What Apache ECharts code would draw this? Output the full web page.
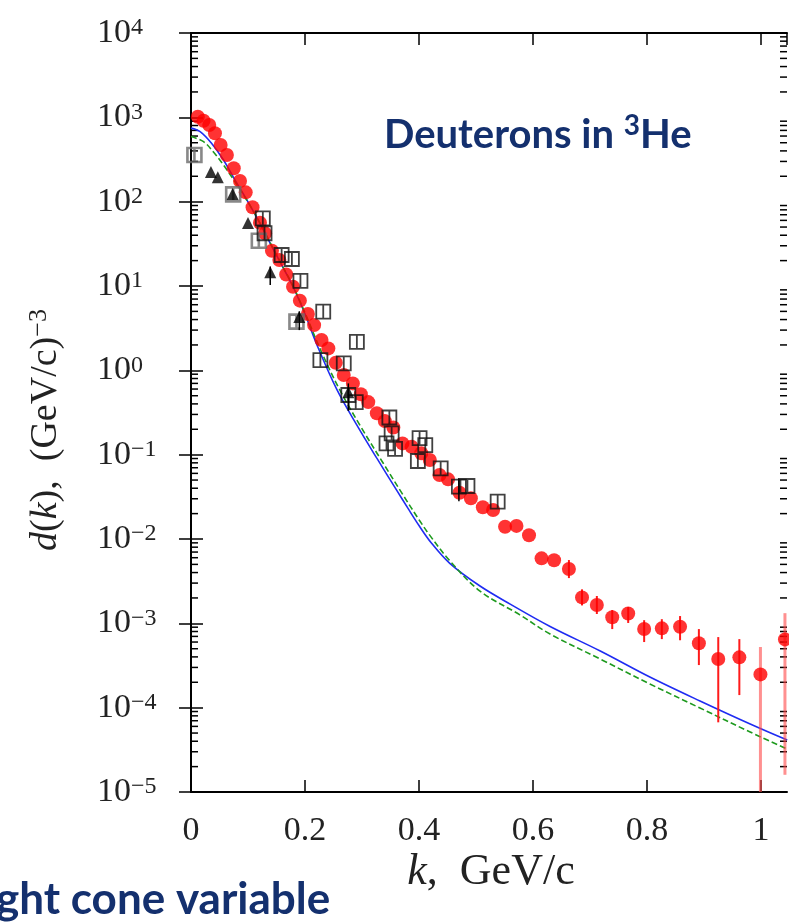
<!DOCTYPE html>
<html>
<head>
<meta charset="utf-8">
<script src="https://cdn.jsdelivr.net/npm/echarts@6/dist/echarts.min.js"></script>
<style>
  html, body { margin: 0; padding: 0; background: #fff; }
  #chart { width: 789px; height: 923px; }
</style>
</head>
<body>
<div id="chart"></div>
<script>
// theory curves, [k (GeV/c), d(k)]
const blueCurve = [
  [0.0, 745], [0.016, 676], [0.036, 492], [0.057, 312], [0.077, 181], [0.098, 105],
  [0.121, 55.3], [0.139, 32.1], [0.156, 19.4], [0.179, 9.8], [0.200, 4.66], [0.221, 2.0],
  [0.256, 0.589], [0.291, 0.224], [0.326, 0.0908], [0.361, 0.0377], [0.381, 0.0229],
  [0.400, 0.01445], [0.421, 0.0091], [0.454, 0.00515], [0.507, 0.00277], [0.560, 0.00169],
  [0.630, 0.000918], [0.718, 0.00047], [0.805, 0.000231], [0.893, 0.00012],
  [0.981, 0.000064], [1.046, 0.0000413]
];
const greenCurve = [
  [0.0, 592], [0.022, 514], [0.039, 391], [0.057, 272], [0.077, 173], [0.098, 104],
  [0.121, 56], [0.139, 32.5], [0.156, 19.6], [0.179, 10.0], [0.200, 4.8], [0.229, 1.65],
  [0.261, 0.585], [0.299, 0.2084], [0.337, 0.0796], [0.372, 0.0333], [0.400, 0.01694],
  [0.419, 0.01104], [0.454, 0.00552], [0.507, 0.00241], [0.577, 0.00126], [0.630, 0.000746],
  [0.718, 0.000377], [0.805, 0.000191], [0.893, 0.0000991], [0.981, 0.0000514],
  [1.046, 0.0000323]
];

// red data points
const redPoints = [
  [0.012, 1017], [0.022, 912], [0.032, 811], [0.042, 647], [0.052, 470], [0.063, 357],
  [0.075, 249], [0.086, 176], [0.096, 129], [0.108, 85.8], [0.121, 56.2], [0.130, 42.1],
  [0.142, 26.2], [0.155, 20.3], [0.167, 13.7], [0.179, 9.8], [0.191, 6.7], [0.205, 4.65],
  [0.216, 3.44], [0.229, 2.29], [0.241, 1.82], [0.254, 1.23], [0.268, 0.88], [0.284, 0.70],
  [0.298, 0.52], [0.311, 0.42], [0.326, 0.31], [0.340, 0.25], [0.355, 0.21], [0.371, 0.136],
  [0.387, 0.124], [0.404, 0.104], [0.419, 0.0865], [0.436, 0.0574], [0.451, 0.051],
  [0.471, 0.0354], [0.491, 0.0304], [0.512, 0.0238], [0.530, 0.0221], [0.551, 0.0140],
  [0.571, 0.0143], [0.593, 0.0111], [0.615, 0.0059], [0.637, 0.0056], [0.663, 0.0044],
  [0.686, 0.00203], [0.712, 0.00165], [0.739, 0.00118], [0.767, 0.00131], [0.795, 0.000856],
  [0.826, 0.000872], [0.858, 0.000912], [0.891, 0.00058], [0.925, 0.000377],
  [0.962, 0.000395], [0.999, 0.000248], [1.042, 0.000645]
];
// [k, low, high]
const redErr = [
  [0.663, 0.00344, 0.00563], [0.686, 0.00163, 0.00253], [0.712, 0.00129, 0.00211],
  [0.739, 0.000855, 0.00144], [0.767, 0.00101, 0.00156], [0.795, 0.0006, 0.00109],
  [0.826, 0.00065, 0.00112], [0.858, 0.00063, 0.00122], [0.891, 0.00032, 0.000855],
  [0.925, 0.000067, 0.000687], [0.962, 0.000141, 0.00065]
];
const redErrWide = [
  [0.999, 0.00001, 0.000524], [1.042, 0.000016, 0.00132]
];

// open squares
const squaresBlack = [
  [0.126, 63.5], [0.129, 42.2], [0.159, 23.3], [0.177, 20.9], [0.192, 11.5], [0.232, 4.96],
  [0.291, 2.18], [0.227, 1.32], [0.268, 1.21], [0.276, 0.51], [0.289, 0.42], [0.348, 0.276],
  [0.352, 0.179], [0.343, 0.136], [0.358, 0.117], [0.401, 0.157], [0.411, 0.130],
  [0.398, 0.0841], [0.438, 0.0689], [0.470, 0.0419], [0.485, 0.0425], [0.538, 0.0277]
];
const squaresGrey = [
  [0.006, 357], [0.074, 122], [0.119, 34.4], [0.185, 3.78]
];

// filled triangles
const triangles = [
  [0.035, 225], [0.047, 195], [0.073, 123], [0.100, 55.8], [0.139, 14.6],
  [0.190, 4.3], [0.276, 0.55]
];
const blackErr = [
  [0.139, 10.3, 17], [0.190, 3.0, 5.0], [0.276, 0.33, 0.7], [0.470, 0.028, 0.053]
];

const xMax = 1.0456;
const serif = 'Liberation Serif';
const navy = '#14306e';

// 2..9 x 10^n positions for the minor ticks on the log axis
const minorTicks = [];
for (let e = -5; e < 4; e++) {
  for (let m = 2; m <= 9; m++) minorTicks.push([0, m * Math.pow(10, e)]);
}

function supExp(v) {
  const e = Math.round(Math.log10(v));
  return '{b|10}{s|' + (e < 0 ? '\u2212' + (-e) : e) + '}';
}

function errBar(color, width) {
  return function (params, api) {
    const k = api.value(0);
    const a = api.coord([k, api.value(1)]);
    const b = api.coord([k, api.value(2)]);
    return {
      type: 'line',
      shape: { x1: a[0], y1: a[1], x2: b[0], y2: b[1] },
      style: { stroke: color, lineWidth: width }
    };
  };
}

const chart = echarts.init(document.getElementById('chart'), null, { renderer: 'canvas' });

const xAxisCommon = {
  type: 'value',
  min: 0,
  max: xMax,
  interval: 0.2,
  splitLine: { show: false },
  axisLine: { show: true, lineStyle: { color: '#000', width: 2 } },
  axisTick: { inside: true, length: 12, lineStyle: { color: '#000', width: 1.5 } }
};
const yAxisCommon = {
  type: 'log',
  logBase: 10,
  min: 1e-5,
  max: 1e4,
  splitNumber: 9,
  splitLine: { show: false },
  axisLine: { show: true, lineStyle: { color: '#000', width: 2 } },
  axisTick: { inside: true, length: 12, lineStyle: { color: '#000', width: 1.5 } }
};

const squareSymbol = 'path://M0 0H10V10H0Z M5 0V10';

const opt = {
  animation: false,
  backgroundColor: '#fff',
  grid: { left: 191, right: 2, top: 33, bottom: 131, show: false },
  xAxis: [
    {
      ...xAxisCommon,
      position: 'bottom',
      axisLabel: {
        margin: 22, fontFamily: serif, fontSize: 34, color: '#222',
        showMaxLabel: false
      }
    },
    { ...xAxisCommon, position: 'top', axisLabel: { show: false } }
  ],
  yAxis: [
    {
      ...yAxisCommon,
      position: 'left',
      axisLabel: {
        margin: 94,
        align: 'left',
        formatter: supExp,
        rich: {
          b: { fontFamily: serif, fontSize: 34, color: '#222', lineHeight: 34 },
          s: { fontFamily: serif, fontSize: 24, color: '#222', verticalAlign: 'top', lineHeight: 24 }
        }
      }
    },
    { ...yAxisCommon, position: 'right', axisLabel: { show: false } }
  ],
  graphic: [
    {
      type: 'text',
      x: 46, y: 430,
      rotation: Math.PI / 2,
      style: {
        text: '{i|d}{r|(}{i|k}{r|),  (GeV/c)}{s|\u22123}',
        align: 'center',
        verticalAlign: 'middle',
        rich: {
          i: { fontFamily: serif, fontStyle: 'italic', fontSize: 38, fill: '#222', lineHeight: 40 },
          r: { fontFamily: serif, fontSize: 38, fill: '#222', lineHeight: 40 },
          s: { fontFamily: serif, fontSize: 26, fill: '#222', verticalAlign: 'top', lineHeight: 26 }
        }
      }
    },
    {
      type: 'text',
      x: 491, y: 872,
      style: {
        text: '{i|k}{r|,  GeV/c}',
        align: 'center',
        verticalAlign: 'middle',
        rich: {
          i: { fontFamily: serif, fontStyle: 'italic', fontSize: 44, fill: '#222' },
          r: { fontFamily: serif, fontSize: 44, fill: '#222' }
        }
      }
    },
    {
      type: 'text',
      x: 384, y: 135,
      style: {
        text: '{b|Deuterons in }{s|3}{b|He}',
        align: 'left',
        verticalAlign: 'middle',
        rich: {
          b: { fontFamily: 'Lato', fontWeight: 'bold', fontSize: 40, fill: navy, lineHeight: 46 },
          s: { fontFamily: 'Lato', fontWeight: 'bold', fontSize: 28, fill: navy, verticalAlign: 'top', lineHeight: 26 }
        }
      }
    },
    {
      type: 'text',
      x: -4, y: 900,
      style: {
        text: 'ght cone variable',
        align: 'left',
        verticalAlign: 'middle',
        fontFamily: 'Lato', fontWeight: 'bold', fontSize: 44, fill: navy
      }
    }
  ],
  series: [
    {
      name: 'minor ticks',
      type: 'custom',
      silent: true,
      data: minorTicks,
      renderItem: function (params, api) {
        const y = api.coord([0, api.value(1)])[1];
        const cs = params.coordSys;
        const st = { stroke: '#000', lineWidth: 1.5 };
        return {
          type: 'group',
          children: [
            { type: 'line', shape: { x1: cs.x, y1: y, x2: cs.x + 7, y2: y }, style: st },
            { type: 'line', shape: { x1: cs.x + cs.width, y1: y, x2: cs.x + cs.width - 7, y2: y }, style: st }
          ]
        };
      }
    },
    {
      name: 'blue',
      type: 'line',
      data: blueCurve,
      showSymbol: false,
      smooth: 0.35,
      lineStyle: { color: '#1f2cf2', width: 1.6 },
      z: 2
    },
    {
      name: 'green',
      type: 'line',
      data: greenCurve,
      showSymbol: false,
      smooth: 0.35,
      lineStyle: { color: '#1e9a1e', width: 1.6, type: [6, 3] },
      z: 2
    },
    {
      name: 'red err',
      type: 'custom',
      clip: true,
      data: redErr,
      encode: { x: 0, y: [1, 2] },
      renderItem: errBar('#ff1a1a', 2),
      z: 3
    },
    {
      name: 'red err wide',
      type: 'custom',
      clip: true,
      data: redErrWide,
      encode: { x: 0, y: [1, 2] },
      renderItem: errBar('rgba(255,70,70,0.6)', 3),
      z: 3
    },
    {
      name: 'red',
      type: 'scatter',
      data: redPoints,
      symbol: 'circle',
      symbolSize: 14,
      itemStyle: { color: '#ff0000' },
      z: 4
    },
    {
      name: 'squares grey',
      type: 'scatter',
      data: squaresGrey,
      symbol: squareSymbol,
      symbolSize: 14,
      itemStyle: { color: 'rgba(0,0,0,0)', borderColor: '#6a6a6a', borderWidth: 2.6 },
      z: 5
    },
    {
      name: 'squares',
      type: 'scatter',
      data: squaresBlack,
      symbol: squareSymbol,
      symbolSize: 14,
      itemStyle: { color: 'rgba(0,0,0,0)', borderColor: '#111', borderWidth: 1.8 },
      z: 5
    },
    {
      name: 'black err',
      type: 'custom',
      clip: true,
      data: blackErr,
      encode: { x: 0, y: [1, 2] },
      renderItem: errBar('#000', 1.5),
      z: 6
    },
    {
      name: 'triangles',
      type: 'scatter',
      data: triangles,
      symbol: 'triangle',
      symbolSize: 12,
      itemStyle: { color: '#000' },
      z: 6
    }
  ]
};

chart.setOption(opt);
</script>
</body>
</html>
